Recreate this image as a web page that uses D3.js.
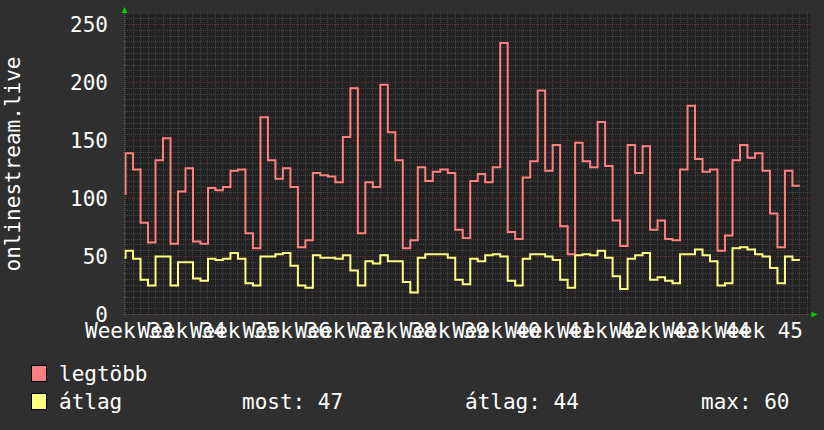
<!DOCTYPE html>
<html>
<head>
<meta charset="utf-8">
<script src="https://cdn.jsdelivr.net/npm/d3@7"></script>
<style>
html, body { margin: 0; padding: 0; background: #2f2f2f; }
svg { display: block; }
text { font-family: "DejaVu Sans Mono", monospace; font-size: 21px; fill: #ffffff; }
</style>
</head>
<body>
<svg width="824" height="430"></svg>
<script>
const svg = d3.select("svg");

const width = 824;
const height = 430;

// one value per day, first entry is Aug 14 (only a sliver of it is visible)
const firstDay = Date.UTC(2024, 7, 14);
const legtobb = [104,
    139, 125, 79, 62,
    133, 152, 61, 106, 126, 63, 61,
    109, 107, 110, 124, 125, 70, 57,
    170, 133, 117, 126, 110, 58, 64,
    122, 120, 119, 114, 153, 195, 70,
    114, 110, 198, 157, 133, 57, 64,
    127, 115, 123, 125, 122, 73, 66,
    115, 121, 114, 127, 234, 71, 65,
    118, 132, 193, 124, 146, 76, 52,
    148, 132, 127, 166, 128, 81, 59,
    146, 122, 145, 73, 81, 65, 64,
    125, 180, 134, 123, 125, 55, 68,
    133, 146, 135, 139, 124, 87, 58,
    124, 111];
const atlag = [49,
    55, 48, 30, 25,
    50, 50, 25, 45, 45, 31, 29,
    48, 47, 48, 53, 48, 27, 25,
    50, 50, 52, 53, 42, 25, 23,
    51, 49, 49, 48, 51, 38, 25,
    46, 44, 51, 46, 46, 28, 19,
    49, 52, 52, 52, 49, 30, 26,
    48, 46, 51, 52, 50, 29, 25,
    48, 52, 52, 50, 47, 30, 23,
    51, 52, 51, 55, 49, 33, 22,
    48, 51, 53, 30, 32, 29, 27,
    52, 52, 56, 51, 46, 25, 27,
    57, 58, 56, 52, 50, 40, 27,
    50, 47];

const yTicks = [0, 50, 100, 150, 200, 250];
const weekNumbers = [33, 34, 35, 36, 37, 38, 39, 40, 41, 42, 43, 44, 45];
const seriesNames = ["legtöbb", "átlag"];
const seriesColors = ["#ff8080", "#ffff80"];
const statLabels = ["most:", "átlag:", "max:"];
const statValues = [47, 44, 60];

const dayMs = 864e5;
const monday34 = Date.UTC(2024, 7, 19);

const plot = { left: 124.5, right: 810.5, top: 14, bottom: 314.5 };

const x = d3.scaleUtc()
    .domain([new Date(monday34 - 4.14 * dayMs), new Date(monday34 + 87.41 * dayMs)])
    .range([plot.left, plot.right]);

const y = d3.scaleLinear()
    .domain([0, 259])
    .range([plot.bottom, plot.top]);

const px = v => Math.round(v - 0.5) + 0.5;

// plot background
svg.append("rect")
    .attr("x", plot.left)
    .attr("y", plot.top)
    .attr("width", plot.right - plot.left)
    .attr("height", plot.bottom - plot.top)
    .attr("fill", "#222222");

const grid = svg.append("g").attr("shape-rendering", "crispEdges");
const [d0, d1] = x.domain();
const days = d3.utcDay.range(d0, d1);
const mondays = d3.utcMonday.range(d0, d1);
const minorY = d3.range(0, 259, 5).filter(v => v % 50 !== 0);

grid.selectAll("line.vminor")
    .data(days.filter(d => d.getUTCDay() !== 1))
    .enter().append("line")
    .attr("x1", d => px(x(d))).attr("x2", d => px(x(d)))
    .attr("y1", plot.top - 2).attr("y2", plot.bottom + 2)
    .attr("stroke", "#444444")
    .attr("stroke-dasharray", "1,1");

grid.selectAll("line.hminor")
    .data(minorY)
    .enter().append("line")
    .attr("x1", plot.left - 2).attr("x2", plot.right)
    .attr("y1", d => px(y(d))).attr("y2", d => px(y(d)))
    .attr("stroke", "#444444")
    .attr("stroke-dasharray", "1,1");

grid.selectAll("line.vmajor")
    .data(mondays)
    .enter().append("line")
    .attr("x1", d => px(x(d))).attr("x2", d => px(x(d)))
    .attr("y1", plot.top - 2).attr("y2", plot.bottom + 3)
    .attr("stroke", "#5c2e2e")
    .attr("stroke-dasharray", "1,1");

grid.selectAll("line.hmajor")
    .data(yTicks)
    .enter().append("line")
    .attr("x1", plot.left - 3).attr("x2", plot.right)
    .attr("y1", d => px(y(d))).attr("y2", d => px(y(d)))
    .attr("stroke", "#5c2e2e")
    .attr("stroke-dasharray", "1,1");

// axes lines
svg.append("line")
    .attr("x1", plot.left).attr("x2", plot.left)
    .attr("y1", plot.top - 2).attr("y2", plot.bottom + 2)
    .attr("stroke", "#555555")
    .attr("stroke-dasharray", "1,1");
svg.append("line")
    .attr("x1", plot.left - 2).attr("x2", plot.right + 2)
    .attr("y1", plot.bottom).attr("y2", plot.bottom)
    .attr("stroke", "#555555")
    .attr("stroke-dasharray", "1,1");

// arrows
svg.append("path")
    .attr("d", `M${plot.left - 3},${plot.top - 1}L${plot.left + 3},${plot.top - 1}L${plot.left},${plot.top - 7}Z`)
    .attr("fill", "#00d000");
svg.append("path")
    .attr("d", `M${plot.right + 1},${plot.bottom - 3}L${plot.right + 1},${plot.bottom + 3}L${plot.right + 7},${plot.bottom}Z`)
    .attr("fill", "#00d000");

// series
svg.append("clipPath").attr("id", "clip")
    .append("rect")
    .attr("x", plot.left).attr("y", plot.top - 2)
    .attr("width", plot.right - plot.left).attr("height", plot.bottom - plot.top + 4);

const toPoints = vals => {
    const pts = vals.map((v, i) => ({ date: new Date(firstDay + i * dayMs), value: v }));
    pts.push({ date: new Date(firstDay + vals.length * dayMs), value: vals[vals.length - 1] });
    return pts;
};

const line = d3.line()
    .x(d => x(d.date))
    .y(d => y(d.value))
    .curve(d3.curveStepAfter);

[legtobb, atlag].forEach((vals, i) => {
    svg.append("path")
        .datum(toPoints(vals))
        .attr("clip-path", "url(#clip)")
        .attr("fill", "none")
        .attr("stroke", seriesColors[i])
        .attr("stroke-width", 2)
        .attr("d", line);
});

// y labels
svg.append("g").selectAll("text")
    .data(yTicks)
    .enter().append("text")
    .attr("x", 108)
    .attr("y", d => y(d) + 7.5)
    .attr("text-anchor", "end")
    .text(d => d);

// x labels, centered in the middle of each week (they overlap, as in the original)
svg.append("g").selectAll("text")
    .data(weekNumbers)
    .enter().append("text")
    .attr("x", (d, i) => x(new Date(monday34 + (i * 7 - 3.5) * dayMs)))
    .attr("y", 338)
    .attr("text-anchor", "middle")
    .text(d => "Week " + d);

// vertical title
svg.append("text")
    .attr("transform", "translate(19.5,164) rotate(-90)")
    .attr("text-anchor", "middle")
    .text("onlinestream.live");

// legend
const legend = svg.append("g");
seriesNames.forEach((name, i) => {
    legend.append("rect")
        .attr("x", 31.5).attr("y", 365.5 + i * 28)
        .attr("width", 15).attr("height", 16)
        .attr("fill", seriesColors[i])
        .attr("stroke", "#000");
    legend.append("text")
        .attr("x", 59).attr("y", 381 + i * 28)
        .text(name);
});
const statX = [242, 465, 701];
statLabels.forEach((lab, i) => {
    legend.append("text")
        .attr("x", statX[i]).attr("y", 409)
        .text(lab + " " + statValues[i]);
});
</script>
</body>
</html>
